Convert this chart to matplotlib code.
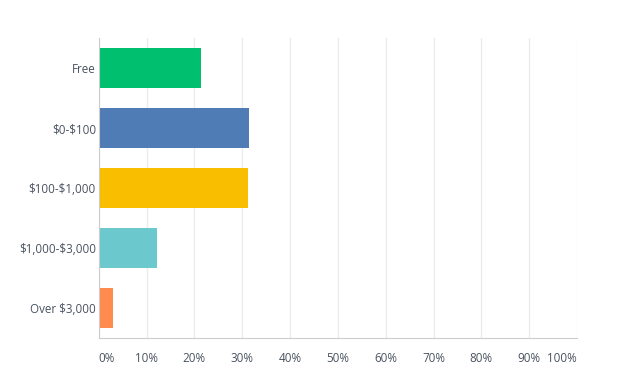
import matplotlib
matplotlib.use("Agg")
import matplotlib.pyplot as plt

categories = ["Free", "$0-$100", "$100-$1,000", "$1,000-$3,000", "Over $3,000"]
values = [21.4, 31.4, 31.2, 12.2, 3.0]
colors = ["#00BF6F", "#507CB6", "#F9BE00", "#6BC8CD", "#FF8B4F"]
xticks = list(range(0, 101, 10))
xtick_labels = [f"{t}%" for t in xticks]

plt.rcParams['font.family'] = ['Open Sans', 'DejaVu Sans']
plt.rcParams['text.parse_math'] = False
fig = plt.figure(figsize=(6.19, 3.88), dpi=100)
ax = fig.add_axes([98.7/619, 1-338.3/388, (577-98.7)/619, (338.3-38)/388])

ypos = list(range(len(categories)))
ax.barh(ypos, values, height=0.667, color=colors, zorder=3)
ax.set_ylim(len(categories)-0.5, -0.5)
ax.set_xlim(0, 100)
ax.set_yticks(ypos)
ax.set_yticklabels(categories, fontsize=8.4, color="#4a5360")
ax.set_xticks(xticks)
ax.set_xticklabels(xtick_labels, fontsize=8.4, color="#4a5360")
labels = ax.get_xticklabels()
labels[0].set_horizontalalignment("left")
labels[-1].set_horizontalalignment("right")
ax.tick_params(axis="both", length=0)
ax.tick_params(axis="x", pad=10)
ax.tick_params(axis="y", pad=2)
ax.grid(axis="x", color="#ebebeb", linewidth=0.9, zorder=0)
for s in ["top", "right"]:
    ax.spines[s].set_visible(False)
ax.spines["left"].set_color("#cccccc")
ax.spines["bottom"].set_color("#cccccc")
ax.spines["left"].set_zorder(4)

fig.savefig("out.png", dpi=100)
